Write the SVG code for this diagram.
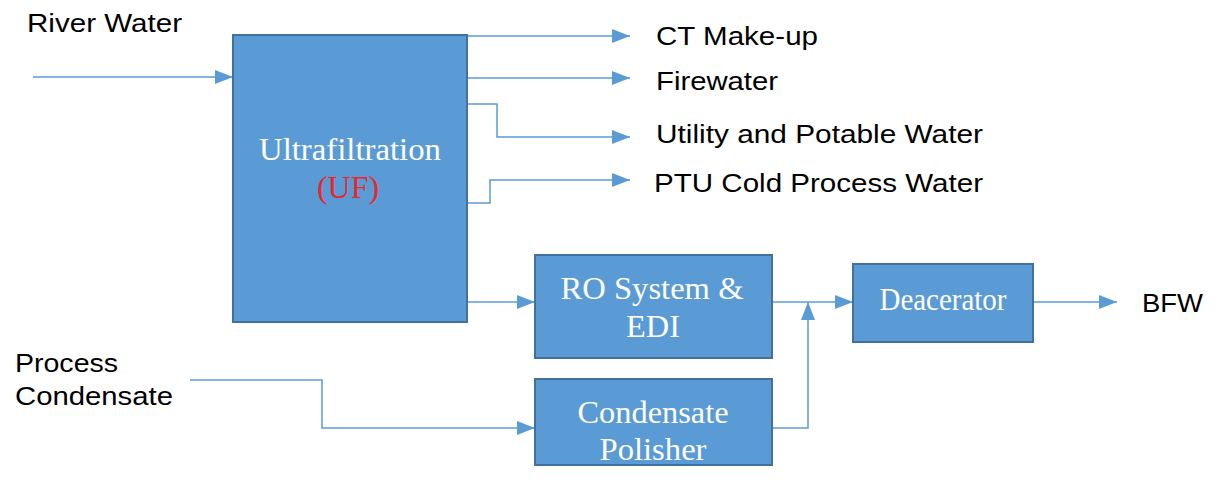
<svg xmlns="http://www.w3.org/2000/svg" width="1222" height="483" viewBox="0 0 1222 483">
<defs>
<marker id="ah" viewBox="0 0 18 14" refX="18" refY="7" markerWidth="18" markerHeight="14" markerUnits="userSpaceOnUse" orient="auto">
<path d="M0,0 L18,7 L0,14 Z" fill="#5b9bd5"/>
</marker>
<style>
.box{fill:#5b9bd5;stroke:#41719c;stroke-width:2}
.bt{font-family:"Liberation Serif",serif;font-size:31px;fill:#ffffff;text-anchor:middle}
.lb{font-family:"Liberation Sans",Arial,sans-serif;font-size:26px;fill:#000000}
.cn{fill:none;stroke:#5b9bd5;stroke-width:1.5;marker-end:url(#ah)}
</style>
</defs>
<rect width="1222" height="483" fill="#ffffff"/>
<g id="connectors">
<path class="cn" d="M33,77 H233"/>
<path class="cn" d="M467,36 H630"/>
<path class="cn" d="M467,78 H630"/>
<path class="cn" d="M467,104 H497 V137 H630"/>
<path class="cn" d="M467,203 H490 V180 H630"/>
<path class="cn" d="M467,302 H535"/>
<path class="cn" d="M190,380 H322 V428 H535"/>
<path class="cn" d="M772,302 H853"/>
<path class="cn" d="M772,428 H808 V302"/>
<path class="cn" d="M1033,302 H1117"/>
</g>
<g id="labels">
<text class="lb" x="27" y="32" textLength="155" lengthAdjust="spacingAndGlyphs">River Water</text>
<text class="lb" x="656" y="45" textLength="162" lengthAdjust="spacingAndGlyphs">CT Make-up</text>
<text class="lb" x="656" y="90" textLength="122" lengthAdjust="spacingAndGlyphs">Firewater</text>
<text class="lb" x="656" y="143" textLength="327" lengthAdjust="spacingAndGlyphs">Utility and Potable Water</text>
<text class="lb" x="654" y="192" textLength="329" lengthAdjust="spacingAndGlyphs">PTU Cold Process Water</text>
<text class="lb" x="15" y="372" textLength="103" lengthAdjust="spacingAndGlyphs">Process</text>
<text class="lb" x="15" y="405" textLength="158" lengthAdjust="spacingAndGlyphs">Condensate</text>
<text class="lb" x="1142" y="312" textLength="61" lengthAdjust="spacingAndGlyphs">BFW</text>
</g>
<g id="uf">
<rect class="box" x="233" y="35" width="234" height="287"/>
<text class="bt" x="350" y="160" textLength="182" lengthAdjust="spacingAndGlyphs">Ultrafiltration</text>
<text class="bt" x="348" y="198" textLength="62" lengthAdjust="spacingAndGlyphs" style="fill:#e8262c">(UF)</text>
</g>
<g id="ro">
<rect class="box" x="535" y="255" width="237" height="103"/>
<text class="bt" x="652" y="299" textLength="183" lengthAdjust="spacingAndGlyphs">RO System &amp;</text>
<text class="bt" x="653" y="337" textLength="54" lengthAdjust="spacingAndGlyphs">EDI</text>
</g>
<g id="polisher">
<rect class="box" x="535" y="379" width="237" height="86"/>
<text class="bt" x="653" y="423" textLength="151" lengthAdjust="spacingAndGlyphs">Condensate</text>
<text class="bt" x="653" y="460" textLength="107" lengthAdjust="spacingAndGlyphs">Polisher</text>
</g>
<g id="deaerator">
<rect class="box" x="853" y="264" width="180" height="78"/>
<text class="bt" x="943" y="310" textLength="127" lengthAdjust="spacingAndGlyphs">Deacerator</text>
</g>
</svg>
